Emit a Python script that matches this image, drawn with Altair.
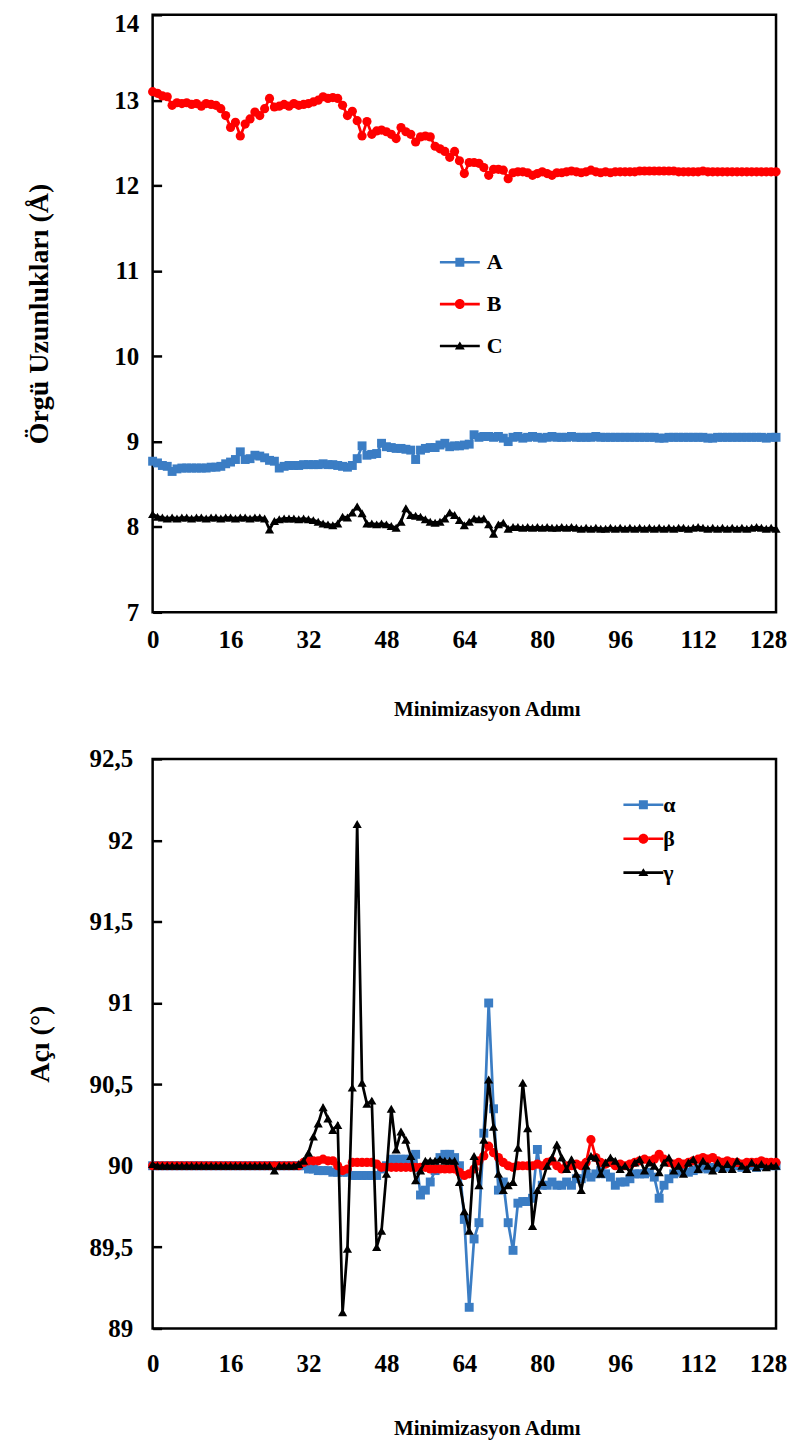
import altair as alt
import pandas as pd

FONT = "Liberation Serif"

steps = list(range(129))
x_ticks = [0, 16, 32, 48, 64, 80, 96, 112, 128]
x_title = "Minimizasyon Adımı"

# ---------- top panel: lattice lengths ----------
top_names = ["A", "B", "C"]
top_ticks = [7, 8, 9, 10, 11, 12, 13, 14]
top_title = "Örgü Uzunlukları (Å)"

A = [8.77, 8.75, 8.72, 8.71, 8.65, 8.68, 8.69, 8.69, 8.69, 8.69,
     8.69, 8.69, 8.70, 8.70, 8.71, 8.74, 8.76, 8.79, 8.88, 8.79,
     8.80, 8.84, 8.83, 8.81, 8.78, 8.77, 8.69, 8.71, 8.72, 8.72,
     8.72, 8.73, 8.73, 8.73, 8.73, 8.74, 8.73, 8.73, 8.72, 8.71,
     8.70, 8.72, 8.80, 8.95, 8.84, 8.85, 8.86, 8.98, 8.94, 8.93,
     8.92, 8.92, 8.91, 8.90, 8.79, 8.90, 8.92, 8.93, 8.93, 8.96,
     8.98, 8.94, 8.95, 8.95, 8.96, 8.97, 9.08, 9.05, 9.06, 9.06,
     9.05, 9.06, 9.04, 9.00, 9.05, 9.06, 9.04, 9.05, 9.06, 9.05,
     9.04, 9.05, 9.06, 9.05, 9.05, 9.05, 9.06, 9.05, 9.05, 9.05,
     9.05, 9.06, 9.05, 9.05, 9.05, 9.05, 9.05, 9.05, 9.05, 9.05,
     9.05, 9.05, 9.05, 9.05, 9.04, 9.04, 9.05, 9.05, 9.05, 9.05,
     9.05, 9.05, 9.05, 9.05, 9.04, 9.04, 9.05, 9.05, 9.05, 9.05,
     9.05, 9.05, 9.05, 9.05, 9.05, 9.05, 9.04, 9.05, 9.05]

B = [13.10, 13.08, 13.05, 13.04, 12.94, 12.97, 12.96, 12.97, 12.95, 12.96,
     12.93, 12.96, 12.95, 12.94, 12.90, 12.82, 12.68, 12.74, 12.58, 12.72,
     12.78, 12.86, 12.82, 12.90, 13.02, 12.92, 12.93, 12.95, 12.93, 12.96,
     12.94, 12.95, 12.96, 12.98, 13.00, 13.04, 13.02, 13.03, 13.02, 12.94,
     12.82, 12.87, 12.76, 12.58, 12.75, 12.60, 12.64, 12.65, 12.63, 12.60,
     12.55, 12.68, 12.63, 12.60, 12.51, 12.57, 12.58, 12.57, 12.46, 12.43,
     12.40, 12.33, 12.40, 12.29, 12.14, 12.27, 12.27, 12.26, 12.21, 12.12,
     12.19, 12.19, 12.18, 12.08, 12.15, 12.16, 12.16, 12.15, 12.12, 12.14,
     12.16, 12.14, 12.12, 12.15, 12.15, 12.16, 12.17, 12.16, 12.15, 12.16,
     12.18, 12.16, 12.15, 12.16, 12.15, 12.16, 12.16, 12.16, 12.16, 12.16,
     12.17, 12.17, 12.17, 12.17, 12.17, 12.17, 12.17, 12.17, 12.16, 12.16,
     12.16, 12.16, 12.16, 12.17, 12.16, 12.16, 12.16, 12.16, 12.16, 12.16,
     12.16, 12.16, 12.16, 12.16, 12.16, 12.16, 12.16, 12.16, 12.16]

C = [8.15, 8.12, 8.11, 8.10, 8.11, 8.10, 8.11, 8.11, 8.10, 8.11,
     8.11, 8.10, 8.11, 8.11, 8.10, 8.11, 8.11, 8.10, 8.11, 8.11,
     8.10, 8.11, 8.11, 8.10, 7.97, 8.07, 8.09, 8.10, 8.10, 8.10,
     8.09, 8.10, 8.09, 8.08, 8.06, 8.04, 8.03, 8.02, 8.04, 8.12,
     8.11, 8.17, 8.24, 8.16, 8.04, 8.04, 8.03, 8.04, 8.03, 8.01,
     7.99, 8.06, 8.22, 8.14, 8.13, 8.12, 8.09, 8.06, 8.05, 8.06,
     8.10, 8.17, 8.14, 8.08, 8.02, 8.06, 8.10, 8.09, 8.10, 8.03,
     7.92, 8.03, 8.05, 7.98, 8.00, 8.00, 7.99, 8.00, 7.99, 8.00,
     7.99, 8.00, 7.99, 7.99, 8.00, 7.99, 8.00, 7.99, 7.98, 7.99,
     7.98, 7.99, 7.98, 7.98, 7.99, 7.98, 7.99, 7.98, 7.99, 7.98,
     7.99, 7.98, 7.99, 7.98, 7.99, 7.98, 7.99, 7.98, 7.99, 7.99,
     7.98, 7.99, 8.00, 7.99, 7.98, 7.99, 7.98, 7.99, 7.98, 7.99,
     7.98, 7.99, 7.98, 7.99, 8.00, 7.99, 7.98, 7.99, 7.98]

# ---------- bottom panel: lattice angles ----------
bot_names = ["α", "β", "γ"]
bot_ticks = [89, 89.5, 90, 90.5, 91, 91.5, 92, 92.5]
bot_title = "Açı (°)"

alpha = [90.00, 90.00, 90.00, 90.00, 90.00, 90.00, 90.00, 90.00, 90.00, 90.00,
         90.00, 90.00, 90.00, 90.00, 90.00, 90.00, 90.00, 90.00, 90.00, 90.00,
         90.00, 90.00, 90.00, 90.00, 90.00, 90.00, 90.00, 90.00, 90.00, 90.00,
         90.00, 90.00, 89.98, 89.98, 89.97, 89.97, 89.97, 89.96, 89.96, 89.96,
         89.96, 89.94, 89.94, 89.94, 89.94, 89.94, 89.94, 89.98, 90.00, 90.04,
         90.04, 90.04, 90.04, 90.04, 90.07, 89.82, 89.85, 89.90, 89.97, 90.05,
         90.07, 90.07, 90.05, 90.00, 89.67, 89.13, 89.55, 89.65, 90.20, 91.00,
         90.35, 89.85, 89.90, 89.65, 89.48, 89.77, 89.78, 89.78, 89.80, 90.10,
         89.88, 89.88, 89.90, 89.88, 89.88, 89.90, 89.88, 89.92, 89.92, 89.95,
         89.93, 89.95, 89.97, 89.95, 89.93, 89.88, 89.90, 89.90, 89.92, 89.95,
         89.95, 89.95, 89.96, 89.93, 89.80, 89.88, 89.92, 89.95, 89.96, 89.97,
         89.96, 89.97, 89.98, 89.99, 89.98, 89.99, 89.99, 90.00, 89.99, 90.00,
         90.00, 89.99, 90.00, 90.00, 89.99, 90.00, 90.00, 90.00, 90.00]

beta = [90.00, 90.00, 90.00, 90.00, 90.00, 90.00, 90.00, 90.00, 90.00, 90.00,
        90.00, 90.00, 90.00, 90.00, 90.00, 90.00, 90.00, 90.00, 90.00, 90.00,
        90.00, 90.00, 90.00, 90.00, 90.00, 90.00, 90.00, 90.00, 90.00, 90.00,
        90.00, 90.02, 90.03, 90.03, 90.03, 90.04, 90.03, 90.03, 90.00, 89.97,
        89.98, 90.02, 90.02, 90.02, 90.02, 90.02, 90.01, 89.99, 89.99, 89.99,
        89.99, 89.99, 89.99, 89.99, 89.99, 89.99, 89.99, 89.98, 89.98, 89.98,
        89.98, 89.98, 89.98, 89.96, 89.94, 89.95, 89.98, 90.03, 90.06, 90.12,
        90.08, 90.05, 90.02, 90.00, 89.99, 90.00, 90.00, 90.00, 90.00, 90.01,
        90.00, 90.02, 90.03, 90.00, 89.98, 90.00, 90.00, 90.01, 90.00, 90.02,
        90.16, 90.05, 90.02, 90.01, 90.02, 90.00, 90.01, 90.00, 90.01, 90.02,
        90.03, 90.04, 90.03, 90.04, 90.07, 90.04, 90.02, 90.01, 90.02, 90.01,
        90.02, 90.03, 90.04, 90.05, 90.04, 90.05, 90.03, 90.02, 90.03, 90.02,
        90.02, 90.01, 90.02, 90.02, 90.02, 90.03, 90.02, 90.02, 90.02]

gamma = [90.01, 90.00, 90.00, 90.00, 90.00, 90.00, 90.00, 90.00, 90.00, 90.00,
         90.00, 90.00, 90.00, 90.00, 90.00, 90.00, 90.00, 90.00, 90.00, 90.00,
         90.00, 90.00, 90.00, 90.00, 90.00, 89.97, 90.00, 90.00, 90.00, 90.00,
         90.01, 90.03, 90.08, 90.18, 90.26, 90.36, 90.29, 90.22, 90.25, 89.10,
         89.49, 90.48, 92.10, 90.51, 90.38, 90.40, 89.50, 89.60, 89.95, 90.35,
         90.10, 90.21, 90.16, 90.06, 89.91, 89.97, 90.03, 90.03, 90.03, 90.04,
         90.03, 90.03, 90.03, 89.90, 89.72, 89.60, 90.06, 89.88, 90.16, 90.53,
         90.24, 89.95, 89.85, 89.88, 89.90, 90.11, 90.51, 90.23, 89.63, 89.85,
         89.90, 90.00, 90.05, 90.13, 90.05, 89.98, 90.04, 89.95, 89.85, 90.00,
         90.06, 90.05, 89.95, 90.02, 90.05, 90.03, 89.98, 90.00, 89.96, 90.02,
         90.04, 89.97, 90.02, 90.00, 89.96, 90.02, 90.05, 89.97, 90.00, 89.95,
         90.02, 90.04, 89.98, 90.03, 90.00, 89.97, 90.02, 89.98, 90.01, 89.98,
         90.03, 90.00, 89.98, 90.02, 89.99, 90.01, 89.99, 90.00, 90.00]

colors = ["#3B7DC4", "#FF0000", "#000000"]
mark_shapes = ["square", "circle", "triangle-up"]
mark_sizes = [80, 85, 85]

# legend symbols: a short line with the marker on it (unit = 15 px)
legend_paths = [
    "M-1.333,-0.087H1.333V0.087H-1.333Z M-0.3,-0.3H0.3V0.3H-0.3Z",
    "M-1.333,-0.087H-0.333V0.087H-1.333Z M0.333,-0.087H1.333V0.087H0.333Z "
    "M-0.333,0A0.333,0.333 0 1,0 0.333,0A0.333,0.333 0 1,0 -0.333,0Z",
    "M-1.333,-0.087H1.333V0.087H-1.333Z M0,-0.3L0.333,0.233H-0.333Z",
]

PLOT_W = 625


def panel(names, series, ydomain, yticks, ytitle, height, comma,
          xlabel_pad, xtitle_y, ylabel_pad, ytitle_pad,
          leg_x, leg_y, leg_rowpad, leg_laboff, top_value=None):
    frames = [pd.DataFrame({"step": steps, "value": v, "series": n})
              for n, v in zip(names, series)]
    df = pd.concat(frames, ignore_index=True)

    xaxis = alt.Axis(values=x_ticks, title=x_title, ticks=False, domain=False,
                     grid=False, labelPadding=xlabel_pad, labelFlush=False,
                     labelOffset={"condition": {"test": "datum.value == 128", "value": -8},
                                  "value": 0},
                     titleX=335, titleY=xtitle_y, titleBaseline="middle")
    yargs = dict(values=yticks, title=ytitle, grid=False, domain=False,
                 ticks=True, tickSize=9, tickWidth=2.5, tickColor="black",
                 offset=-9, labelPadding=ylabel_pad,
                 titlePadding=ytitle_pad, titleFontSize=28)
    if top_value is not None:
        test = "datum.value == %s" % top_value
        yargs["labelBaseline"] = {"condition": {"test": test, "value": "top"}, "value": "middle"}
        yargs["labelOffset"] = {"condition": {"test": test, "value": -3}, "value": 0}
    if comma:
        yargs["labelExpr"] = ("replace(format(datum.value, datum.value % 1 ? '.1f' : 'd'), '.', ',')")
    yaxis = alt.Axis(**yargs)

    xenc = alt.X("step:Q", scale=alt.Scale(domain=[0, 128], nice=False, zero=False), axis=xaxis)
    yenc = alt.Y("value:Q", scale=alt.Scale(domain=ydomain, nice=False, zero=False), axis=yaxis)

    layers = []
    for n, c, s, sz in zip(names, colors, mark_shapes, mark_sizes):
        sub = alt.Chart(df).transform_filter(alt.datum.series == n)
        layers.append(sub.mark_line(color=c, strokeWidth=2.7).encode(x=xenc, y=yenc))
        layers.append(sub.mark_point(shape=s, filled=True, color=c, size=sz,
                                     opacity=1, strokeWidth=0).encode(x=xenc, y=yenc))

    leg = alt.Legend(orient="none", legendX=leg_x, legendY=leg_y, title=None,
                     symbolSize=900, symbolStrokeWidth=0, symbolOpacity=1,
                     labelFont=FONT, labelFontSize=22, labelFontWeight="bold",
                     labelColor="black", rowPadding=leg_rowpad,
                     labelOffset=leg_laboff, padding=0)
    legend_layer = (
        alt.Chart(pd.DataFrame({"series": names}))
        .transform_filter("false")
        .mark_point(filled=True, opacity=1)
        .encode(
            color=alt.Color("series:N", scale=alt.Scale(domain=names, range=colors), legend=leg),
            shape=alt.Shape("series:N", scale=alt.Scale(domain=names, range=legend_paths), legend=leg),
        )
    )
    return alt.layer(*layers, legend_layer).properties(width=PLOT_W, height=height)


top = panel(top_names, [A, B, C], [7, 14], top_ticks, top_title, 599, False,
            xlabel_pad=15, xtitle_y=97, ylabel_pad=14, ytitle_pad=60,
            leg_x=293, leg_y=233, leg_rowpad=16, leg_laboff=12, top_value=14)

bottom = panel(bot_names, [alpha, beta, gamma], [89, 92.5], bot_ticks, bot_title, 571, True,
               xlabel_pad=23, xtitle_y=100, ylabel_pad=20, ytitle_pad=35,
               leg_x=477, leg_y=31, leg_rowpad=8, leg_laboff=5)

chart = (
    alt.vconcat(top, bottom, spacing=24)
    .resolve_scale(color="independent", shape="independent")
    .resolve_legend(color="independent", shape="independent")
    .properties(padding={"left": 16, "top": 0, "right": 0, "bottom": 0}, background="white")
    .configure_view(stroke="black", strokeWidth=2.5)
    .configure_axis(labelFont=FONT, labelFontSize=25, labelFontWeight="bold", labelColor="black",
                    titleFont=FONT, titleFontSize=21, titleFontWeight="bold", titleColor="black")
)

chart.save("out.html", embed_options={"renderer": "svg", "actions": False})
